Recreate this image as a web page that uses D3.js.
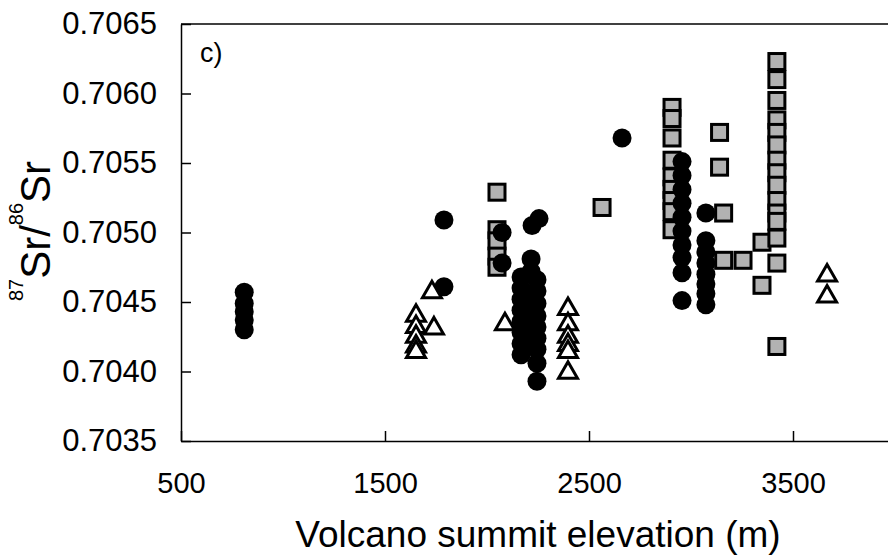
<html>
<head>
<script src="https://cdn.jsdelivr.net/npm/d3@7"></script>
<style>
  body { margin: 0; background: white; }
  text { font-family: "Liberation Sans", Arial, Helvetica, sans-serif; fill: black; }
</style>
</head>
<body>
<svg width="888" height="560"></svg>
<script>
// filled circles
const circleElev = [810, 810, 810, 810, 810,
  1789, 1789, 2074, 2074, 2221, 2255, 2216, 2216,
  2167, 2167, 2167, 2167, 2167, 2167, 2167, 2167,
  2245, 2245, 2245, 2245, 2245, 2245, 2245, 2245, 2245,
  2200, 2200, 2200, 2662,
  2956, 2956, 2956, 2956, 2956, 2956, 2956, 2956, 2956, 2956,
  3073, 3073, 3073, 3073, 3073, 3073, 3073, 3073]
const circleSr = [0.70457, 0.70449, 0.70443, 0.70437, 0.70430,
  0.70509, 0.70461, 0.70500, 0.70478, 0.70505, 0.70510, 0.70481, 0.70472,
  0.70468, 0.70460, 0.70452, 0.70444, 0.70436, 0.70428, 0.70420, 0.70412,
  0.70466, 0.70458, 0.70449, 0.70440, 0.70432, 0.70424, 0.70416, 0.70406, 0.70393,
  0.70455, 0.70440, 0.70425, 0.70568,
  0.70551, 0.70541, 0.70531, 0.70521, 0.70511, 0.70501, 0.70491, 0.70482, 0.70471, 0.70451,
  0.70514, 0.70494, 0.70486, 0.70478, 0.70470, 0.70463, 0.70456, 0.70448]
// open triangles
const triElev = [1652, 1652, 1652, 1652, 1652, 1730, 1740, 2088,
  2397, 2397, 2397, 2397, 2397, 2397, 3667, 3667]
const triSr = [0.70442, 0.70434, 0.70427, 0.70420, 0.70416, 0.70459, 0.70433, 0.70436,
  0.70447, 0.70436, 0.70427, 0.70421, 0.70416, 0.70401, 0.70471, 0.70456]
// grey squares
const sqElev = [2049, 2049, 2049, 2049, 2049, 2564,
  2907, 2907, 2907, 2907, 2907, 2907, 2907, 2907, 2907,
  3140, 3140, 3160, 3160, 3255, 3348, 3348,
  3421, 3421, 3421, 3421, 3421, 3421, 3421, 3421, 3421, 3421, 3421, 3421, 3421, 3421, 3421]
const sqSr = [0.70529, 0.70502, 0.70494, 0.70483, 0.70475, 0.70518,
  0.70590, 0.70582, 0.70568, 0.70552, 0.70540, 0.70531, 0.70523, 0.70515, 0.70502,
  0.70572, 0.70547, 0.70514, 0.70480, 0.70480, 0.70493, 0.70462,
  0.70623, 0.70610, 0.70595, 0.70581, 0.70572, 0.70563, 0.70552, 0.70543, 0.70534, 0.70523, 0.70514, 0.70508, 0.70496, 0.70478, 0.70418]
const xTicks = [500, 1500, 2500, 3500]
const yTicks = [0.7035, 0.7040, 0.7045, 0.7050, 0.7055, 0.7060, 0.7065]

var x = d3.scaleLinear().domain([500, 4000]).range([181, 895]);
var y = d3.scaleLinear().domain([0.7035, 0.7065]).range([441, 24]);
var svg = d3.select("svg");

// squares first, then circles, then triangles on top
svg.append("g").selectAll("rect").data(sqElev).enter().append("rect")
  .attr("x", function(d){ return x(d) - 8; })
  .attr("y", function(d,i){ return y(sqSr[i]) - 8; })
  .attr("width", 16).attr("height", 16)
  .style("fill", "#b2b2b2").style("stroke", "black").style("stroke-width", 3);

svg.append("g").selectAll("circle").data(circleElev).enter().append("circle")
  .attr("cx", function(d){ return x(d); })
  .attr("cy", function(d,i){ return y(circleSr[i]); })
  .attr("r", 9.5)
  .style("fill", "black");

function tri(cx, cy){
  var w = 19, h = 16.5;
  return "M" + cx + "," + (cy - h/2) + "L" + (cx + w/2) + "," + (cy + h/2) + "L" + (cx - w/2) + "," + (cy + h/2) + "Z";
}
svg.append("g").selectAll("path").data(triElev).enter().append("path")
  .attr("d", function(d,i){ return tri(x(d), y(triSr[i])); })
  .style("fill", "white").style("stroke", "black").style("stroke-width", 3)
  .style("stroke-linejoin", "miter");

// axes, ticks point inward
var xAxis = svg.append("g").attr("transform", "translate(0," + y(0.7035) + ")")
  .call(d3.axisBottom(x).tickValues(xTicks).tickSize(-10).tickSizeOuter(0)
    .tickPadding(31).tickFormat(d3.format("d")));
xAxis.attr("font-size", 29).attr("font-family", null);
xAxis.selectAll("path, line").style("stroke", "black").style("stroke-width", 1.5);

var yAxis = svg.append("g").attr("transform", "translate(" + x(500) + ",0)")
  .call(d3.axisLeft(y).tickValues(yTicks).tickSize(-10).tickSizeOuter(0)
    .tickPadding(24).tickFormat(d3.format(".4f")));
yAxis.attr("font-size", 31).attr("font-family", null);
yAxis.selectAll("path, line").style("stroke", "black").style("stroke-width", 1.5);

svg.append("line")
  .attr("x1", x(500)).attr("x2", x(4000))
  .attr("y1", y(0.7065)).attr("y2", y(0.7065))
  .style("stroke", "black").style("stroke-width", 1.5);

svg.append("text").attr("x", 200).attr("y", 62)
  .attr("font-size", 27).text("c)");

svg.append("text").attr("x", 538).attr("y", 547)
  .attr("text-anchor", "middle").attr("font-size", 37)
  .text("Volcano summit elevation (m)");

var yl = svg.append("text")
  .attr("transform", "translate(50,231) rotate(-90)")
  .attr("text-anchor", "middle").attr("font-size", 42);
yl.append("tspan").attr("font-size", 20).attr("dy", -27).text("87");
yl.append("tspan").attr("dy", 27).text("Sr/");
yl.append("tspan").attr("font-size", 20).attr("dy", -27).text("86");
yl.append("tspan").attr("dy", 27).text("Sr");
</script>
</body>
</html>
